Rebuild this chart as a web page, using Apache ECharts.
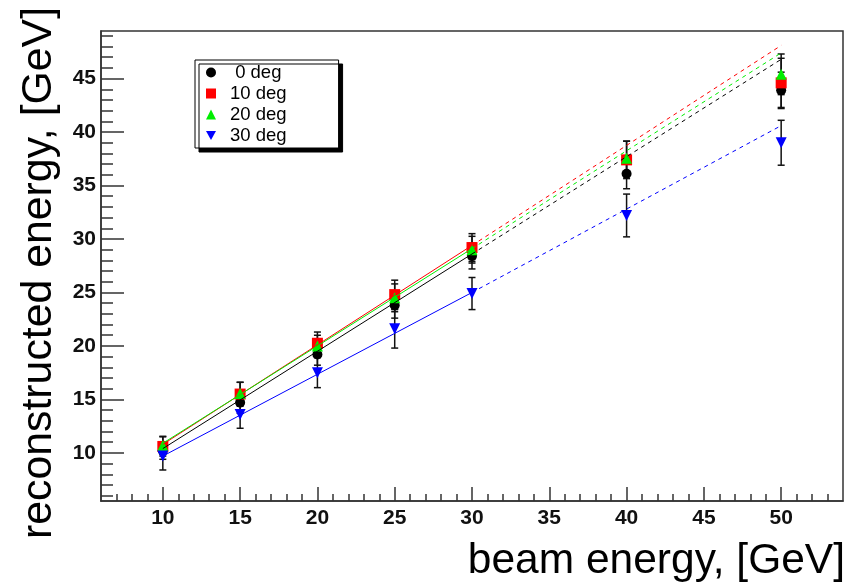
<!DOCTYPE html>
<html><head><meta charset="utf-8">
<script src="https://cdn.jsdelivr.net/npm/echarts@6/dist/echarts.min.js"></script>
<style>html,body{margin:0;padding:0;background:#fff;}#c{width:848px;height:585px;}</style>
</head><body><div id="c"></div>
<script>
// ---- data ----
const beamEnergy = [10, 15, 20, 25, 30, 40, 50];
const reco0  = [10.2, 14.7, 19.2, 23.8, 28.4, 36.1, 43.9];
const err0   = [0.8, 1.0, 1.0, 1.2, 1.2, 1.4, 1.7];
const reco10 = [10.6, 15.5, 20.25, 24.8, 29.2, 37.4, 44.6];
const err10  = [0.9, 1.1, 1.05, 1.35, 1.3, 1.75, 2.3];
const reco20 = [10.7, 15.55, 20.0, 24.5, 29.0, 37.55, 45.4];
const err20  = [0.85, 1.05, 1.0, 1.3, 1.25, 1.6, 1.9];
const reco30 = [9.7, 13.6, 17.5, 21.6, 24.9, 32.2, 39.0];
const err30  = [1.3, 1.3, 1.4, 1.8, 1.5, 2.0, 2.1];
// linear fit lines: values at fitX (solid 10-30, dashed 30-50)
const fitX   = [10, 30, 50];
const fit0   = [10.4, 28.6, 46.8];
const fit10  = [10.8, 29.4, 48.1];
const fit20  = [10.9, 29.1, 47.4];
const fit30  = [9.7, 25.0, 40.6];
const seriesNames = ['0 deg', '10 deg', '20 deg', '30 deg'];
const xMajorTicks = [10, 15, 20, 25, 30, 35, 40, 45, 50];
const yMajorTicks = [10, 15, 20, 25, 30, 35, 40, 45];
const xMinorTicks = []; for (let v = 7; v <= 53; v++) xMinorTicks.push(v);
const yMinorTicks = []; for (let v = 6; v <= 49; v++) yMinorTicks.push(v);

const colors = ['#000000', '#ff0000', '#00ee00', '#0000ff'];
const symbols = ['circle', 'rect', 'triangle', 'path://M0,0L10,0L5,9Z'];
const symSizes = [10, 11, 11, 11];
const recos = [reco0, reco10, reco20, reco30];
const errs = [err0, err10, err20, err30];
const fits = [fit0, fit10, fit20, fit30];

const FONT = '"Liberation Sans", Arial, Helvetica, sans-serif';

const series = [];
seriesNames.forEach((name, k) => {
  const fit = fits[k];
  series.push({
    name: 'fitA' + k, type: 'line', symbol: 'none', silent: true,
    data: [[fitX[0], fit[0]], [fitX[1], fit[1]]],
    lineStyle: { color: colors[k], width: 1 }
  });
  series.push({
    name: 'fitB' + k, type: 'line', symbol: 'none', silent: true,
    data: [[fitX[1], fit[1]], [fitX[2], fit[2]]],
    lineStyle: { color: colors[k], width: 1, type: [4, 4] }
  });
  series.push({
    name: 'err' + k, type: 'custom', silent: true,
    data: beamEnergy.map((e, i) => [e, recos[k][i] - errs[k][i], recos[k][i] + errs[k][i]]),
    renderItem: function (params, api) {
      const lo = api.coord([api.value(0), api.value(1)]);
      const hi = api.coord([api.value(0), api.value(2)]);
      const w = 3.5;
      const st = { stroke: '#111', lineWidth: 1.5, fill: null };
      return { type: 'group', children: [
        { type: 'line', shape: { x1: lo[0], y1: lo[1], x2: hi[0], y2: hi[1] }, style: st },
        { type: 'line', shape: { x1: lo[0] - w, y1: lo[1], x2: lo[0] + w, y2: lo[1] }, style: st },
        { type: 'line', shape: { x1: hi[0] - w, y1: hi[1], x2: hi[0] + w, y2: hi[1] }, style: st }
      ]};
    }
  });
  series.push({
    name: name, type: 'scatter',
    data: beamEnergy.map((e, i) => [e, recos[k][i]]),
    symbol: symbols[k], symbolSize: symSizes[k],
    itemStyle: { color: colors[k], opacity: 1 }
  });
});

const axisLineStyle = { color: '#333', width: 1.5 };
const option = {
  animation: false,
  backgroundColor: '#fff',
  grid: { left: 101, right: 5, top: 31, bottom: 84, show: true, borderColor: '#333', borderWidth: 1.5,
          containLabel: false, outerBoundsMode: 'none' },
  xAxis: [
    { type: 'value', min: 6, max: 54, position: 'bottom', splitLine: { show: false },
      axisLine: { show: true, lineStyle: axisLineStyle },
      axisTick: { inside: true, length: 14, customValues: xMajorTicks, lineStyle: { color: '#333', width: 1.5 } },
      axisLabel: { customValues: xMajorTicks, margin: 7, fontSize: 21, fontWeight: 'bold', fontFamily: FONT, color: '#111' } },
    { type: 'value', min: 6, max: 54, position: 'bottom', splitLine: { show: false },
      axisLine: { show: false },
      axisTick: { inside: true, length: 7, customValues: xMinorTicks, lineStyle: { color: '#333', width: 1.5 } },
      axisLabel: { show: false } }
  ],
  yAxis: [
    { type: 'value', min: 5.5, max: 49.45, position: 'left', splitLine: { show: false },
      axisLine: { show: true, lineStyle: axisLineStyle },
      axisTick: { inside: true, length: 23, customValues: yMajorTicks, lineStyle: { color: '#333', width: 1.5 } },
      axisLabel: { customValues: yMajorTicks, margin: 5, fontSize: 21, fontWeight: 'bold', fontFamily: FONT, color: '#111',
                   padding: [6, 0, 0, 0] } },
    { type: 'value', min: 5.5, max: 49.45, position: 'left', splitLine: { show: false },
      axisLine: { show: false },
      axisTick: { inside: true, length: 12, customValues: yMinorTicks, lineStyle: { color: '#333', width: 1.5 } },
      axisLabel: { show: false } }
  ],
  legend: {
    orient: 'vertical', left: 195, top: 60,
    data: seriesNames.map((n, k) => ({ name: n, icon: symbols[k] })),
    formatter: n => (n === '0 deg' ? ' ' + n : n),
    itemWidth: 10, itemHeight: 10, itemGap: 2,
    padding: [3, 52, 3, 11],
    backgroundColor: '#fff', borderColor: '#000', borderWidth: 1,
    shadowColor: '#000', shadowOffsetX: 4, shadowOffsetY: 4, shadowBlur: 0,
    selectedMode: false,
    textStyle: { fontSize: 18.5, fontFamily: FONT, color: '#000', padding: [0, 0, 0, 9] }
  },
  graphic: [
    { type: 'text', x: 845, y: 561, silent: true,
      style: { text: 'beam energy, [GeV]', font: '42.5px ' + FONT, fill: '#000', textAlign: 'right', textVerticalAlign: 'middle' } },
    { type: 'text', x: 39, y: 539, rotation: Math.PI / 2, silent: true,
      style: { text: 'reconstructed energy, [GeV]', font: '42.8px ' + FONT, fill: '#000', textAlign: 'left', textVerticalAlign: 'middle' } }
  ],
  series: series
};
const chart = echarts.init(document.getElementById('c'), null, { renderer: 'canvas' });
chart.setOption(option);
</script></body></html>
